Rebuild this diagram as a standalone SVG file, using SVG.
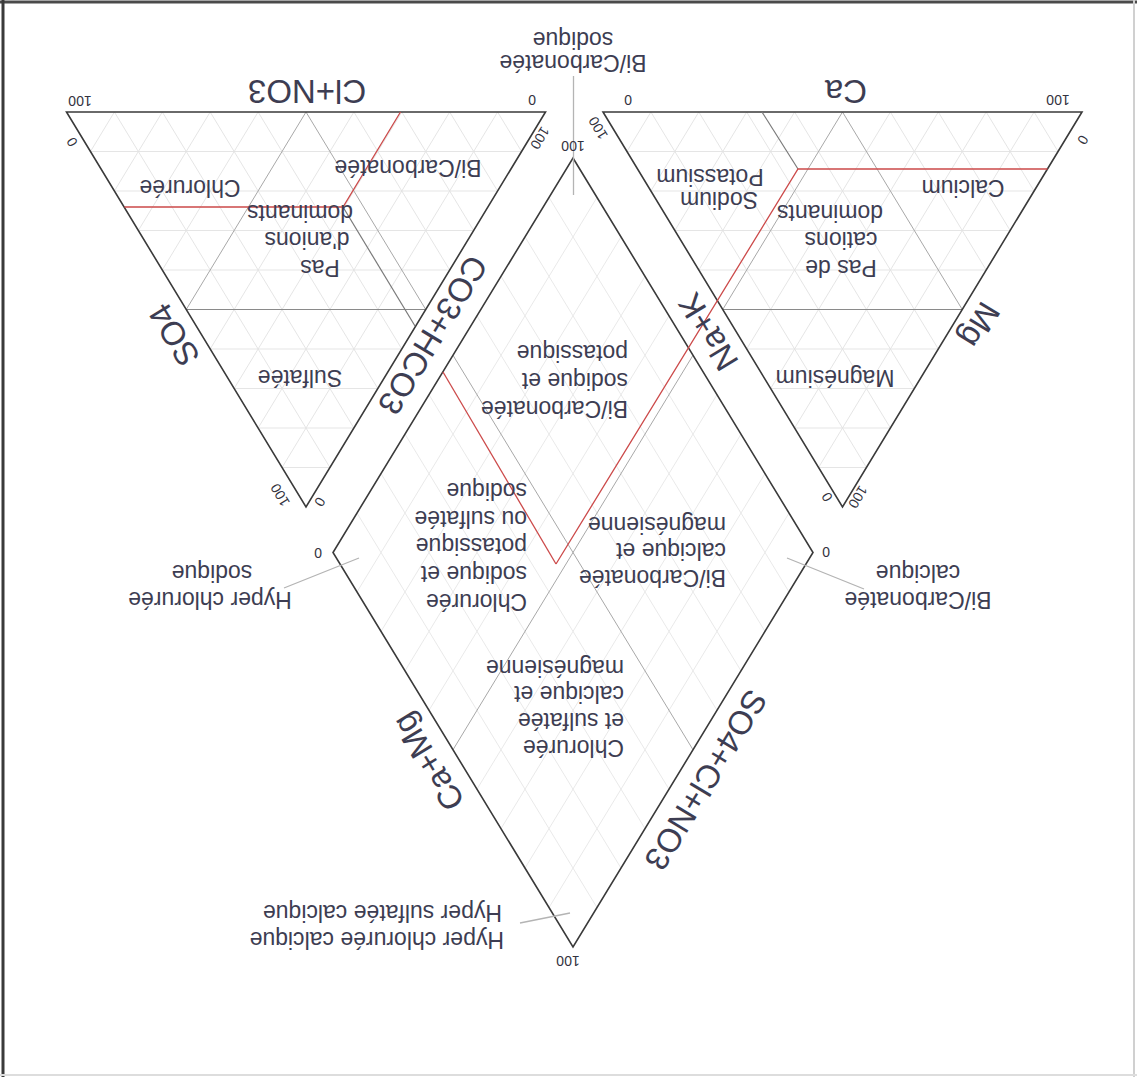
<svg xmlns="http://www.w3.org/2000/svg" width="1137" height="1077" viewBox="0 0 1137 1077">
<style>
.t{font-family:"Liberation Sans",Arial,sans-serif;fill:#3d3d52;dominant-baseline:central}
.l{font-size:23px;text-anchor:middle}
.r{font-size:23px;text-anchor:start}
.ax{font-size:33px;text-anchor:middle}
.n{font-size:14px;text-anchor:middle;fill:#333340}
.edge{fill:none;stroke:#3a3a3a;stroke-width:1.6}
.grid{fill:none;stroke:#e2e2e2;stroke-width:0.9}
.dgrid{fill:none;stroke:#e6e6e6;stroke-width:0.9}
.half{fill:none;stroke:#a8a8a8;stroke-width:1}
.halfd{fill:none;stroke:#8a8a8a;stroke-width:1.1}
.gline{fill:none;stroke:#7a7a7a;stroke-width:1.2}
.red{fill:none;stroke:#cc4a4a;stroke-width:1.3}
.lead{fill:none;stroke:#b4b4b4;stroke-width:1.3}
</style>
<defs>
<g id="tgrid">
<path class="grid" d="M23.95 39.5H455.05M47.9 79H431.1M71.85 118.5H407.15M95.8 158H383.2M143.7 237H335.3M167.65 276.5H311.35M191.6 316H287.4M215.55 355.5H263.45M47.9 0L263.45 355.5M95.8 0L287.4 316M143.7 0L311.35 276.5M191.6 0L335.3 237M287.4 0L383.2 158M335.3 0L407.15 118.5M383.2 0L431.1 79M431.1 0L455.05 39.5M47.9 0L23.95 39.5M95.8 0L47.9 79M143.7 0L71.85 118.5M191.6 0L95.8 158M287.4 0L143.7 237M335.3 0L167.65 276.5M383.2 0L191.6 316M431.1 0L215.55 355.5"/>
<path class="half" d="M239.5 0L359.25 197.5M239.5 0L119.75 197.5"/>
<path class="halfd" d="M119.75 197.5H359.25"/>
<path class="edge" d="M0 0H479L239.5 395Z"/>
</g>
</defs>
<rect width="1137" height="1077" fill="#ffffff"/>
<g id="frame">
<line x1="0" y1="2" x2="1137" y2="2" stroke="#4a4a4a" stroke-width="3"/>
<line x1="3" y1="0" x2="3" y2="1077" stroke="#3a3a3a" stroke-width="3"/>
<line x1="1134" y1="0" x2="1134" y2="1077" stroke="#d0d0d0" stroke-width="2"/>
<line x1="0" y1="1075" x2="1137" y2="1075" stroke="#dddddd" stroke-width="2"/>
</g>
<g id="cation-triangle">
<use href="#tgrid" transform="translate(603,112)"/>
</g>
<g id="anion-triangle">
<use href="#tgrid" transform="translate(66.5,112)"/>
</g>
<g id="diamond" transform="translate(573,158)">
<path class="dgrid" d="M24 39.45L-216 433.95M48 78.9L-192 473.4M72 118.35L-168 512.85M96 157.8L-144 552.3M144 236.7L-96 631.2M168 276.15L-72 670.65M192 315.6L-48 710.1M216 355.05L-24 749.55M-24 39.45L216 433.95M-48 78.9L192 473.4M-72 118.35L168 512.85M-96 157.8L144 552.3M-144 236.7L96 631.2M-168 276.15L72 670.65M-192 315.6L48 710.1M-216 355.05L24 749.55"/>
<path class="half" d="M120 197.25L-120 591.75M-120 197.25L120 591.75"/>
<path class="edge" d="M0 0L240 394.5L0 789L-240 394.5Z"/>
</g>
<g id="connectors">
<path class="gline" d="M762 112L798 169"/>
<path class="red" d="M1047.5 169H798L556 564"/>
<path class="red" d="M124.5 207H343L400.5 112"/>
<path class="gline" d="M343 207L415 326"/>
<path class="red" d="M443 372L556 564"/>
<path class="lead" d="M573.5 76V195"/>
<path class="lead" d="M787 558L864 589"/>
<path class="lead" d="M359 558L284 588"/>
<path class="lead" d="M520 923L570 913"/>
</g>
<g id="axis-labels">
<text class="t ax" x="846" y="91" transform="rotate(180 846 91)">Ca</text>
<text class="t ax" x="307" y="91" transform="rotate(180 307 91)">Cl+NO3</text>
<text class="t ax" x="980" y="325" transform="rotate(121.3 980 325)">Mg</text>
<text class="t ax" x="708" y="332" transform="rotate(238.7 708 332)">Na+K</text>
<text class="t ax" x="174" y="335" transform="rotate(238.7 174 335)">SO4</text>
<text class="t ax" x="433" y="335" transform="rotate(121.3 433 335)">CO3+HCO3</text>
<text class="t ax" x="428" y="762" transform="rotate(238.7 428 762)">Ca+Mg</text>
<text class="t ax" x="706" y="780" transform="rotate(121.3 706 780)">SO4+Cl+NO3</text>
</g>
<g id="scale-numbers">
<text class="t n" x="1058" y="100" transform="rotate(180 1058 100)">100</text>
<text class="t n" x="628" y="100" transform="rotate(180 628 100)">0</text>
<text class="t n" x="1083" y="140" transform="rotate(121.3 1083 140)">0</text>
<text class="t n" x="598" y="128" transform="rotate(238.7 598 128)">100</text>
<text class="t n" x="827" y="497" transform="rotate(238.7 827 497)">0</text>
<text class="t n" x="858" y="497" transform="rotate(121.3 858 497)">100</text>
<text class="t n" x="80" y="101" transform="rotate(180 80 101)">100</text>
<text class="t n" x="532" y="100" transform="rotate(180 532 100)">0</text>
<text class="t n" x="72" y="142" transform="rotate(238.7 72 142)">0</text>
<text class="t n" x="540" y="138" transform="rotate(121.3 540 138)">100</text>
<text class="t n" x="280" y="495" transform="rotate(238.7 280 495)">100</text>
<text class="t n" x="320" y="502" transform="rotate(121.3 320 502)">0</text>
<text class="t n" x="573" y="146" transform="rotate(180 573 146)">100</text>
<text class="t n" x="318" y="553" transform="rotate(180 318 553)">0</text>
<text class="t n" x="826" y="552" transform="rotate(180 826 552)">0</text>
<text class="t n" x="568" y="961" transform="rotate(180 568 961)">100</text>
</g>
<g id="cation-zones">
<text class="t l" x="963" y="188" transform="rotate(180 963 188)">Calcium</text>
<text class="t l" x="719" y="200" transform="rotate(180 719 200)">Sodium</text>
<text class="t l" x="710" y="177" transform="rotate(180 710 177)">Potassium</text>
<text class="t l" x="841" y="268" transform="rotate(180 841 268)">Pas de</text>
<text class="t l" x="841" y="240" transform="rotate(180 841 240)">cations</text>
<text class="t l" x="830" y="213" transform="rotate(180 830 213)">dominants</text>
<text class="t l" x="835" y="378" transform="rotate(180 835 378)">Magnésium</text>
</g>
<g id="anion-zones">
<text class="t l" x="408" y="168" transform="rotate(180 408 168)">Bi/Carbonatée</text>
<text class="t l" x="190" y="188" transform="rotate(180 190 188)">Chlorurée</text>
<text class="t l" x="300" y="213" transform="rotate(180 300 213)">dominants</text>
<text class="t l" x="307" y="240" transform="rotate(180 307 240)">d'anions</text>
<text class="t l" x="320" y="268" transform="rotate(180 320 268)">Pas</text>
<text class="t l" x="300" y="378" transform="rotate(180 300 378)">Sulfatée</text>
</g>
<g id="diamond-zones">
<text class="t r" x="628" y="353" transform="rotate(180 628 353)">potassique</text>
<text class="t r" x="628" y="381" transform="rotate(180 628 381)">sodique et</text>
<text class="t r" x="628" y="409" transform="rotate(180 628 409)">Bi/Carbonatée</text>
<text class="t r" x="527" y="491" transform="rotate(180 527 491)">sodique</text>
<text class="t r" x="527" y="519" transform="rotate(180 527 519)">ou sulfatée</text>
<text class="t r" x="527" y="546" transform="rotate(180 527 546)">potassique</text>
<text class="t r" x="527" y="574" transform="rotate(180 527 574)">sodique et</text>
<text class="t r" x="527" y="602" transform="rotate(180 527 602)">Chlorurée</text>
<text class="t r" x="726" y="525" transform="rotate(180 726 525)">magnésienne</text>
<text class="t r" x="726" y="551" transform="rotate(180 726 551)">calcique et</text>
<text class="t r" x="726" y="578" transform="rotate(180 726 578)">Bi/Carbonatée</text>
<text class="t r" x="624" y="668" transform="rotate(180 624 668)">magnésienne</text>
<text class="t r" x="624" y="694" transform="rotate(180 624 694)">calcique et</text>
<text class="t r" x="624" y="721" transform="rotate(180 624 721)">et sulfatée</text>
<text class="t r" x="624" y="748" transform="rotate(180 624 748)">Chlorurée</text>
</g>
<g id="outer-labels">
<text class="t l" x="573" y="40" transform="rotate(180 573 40)">sodique</text>
<text class="t l" x="573" y="63" transform="rotate(180 573 63)">Bi/Carbonatée</text>
<text class="t l" x="918" y="573" transform="rotate(180 918 573)">calcique</text>
<text class="t l" x="918" y="600" transform="rotate(180 918 600)">Bi/Carbonatée</text>
<text class="t l" x="212" y="573" transform="rotate(180 212 573)">sodique</text>
<text class="t l" x="210" y="600" transform="rotate(180 210 600)">Hyper chlorurée</text>
<text class="t r" x="502" y="913" transform="rotate(180 502 913)">Hyper sulfatée calcique</text>
<text class="t r" x="504" y="940" transform="rotate(180 504 940)">Hyper chlorurée calcique</text>
</g>
</svg>
